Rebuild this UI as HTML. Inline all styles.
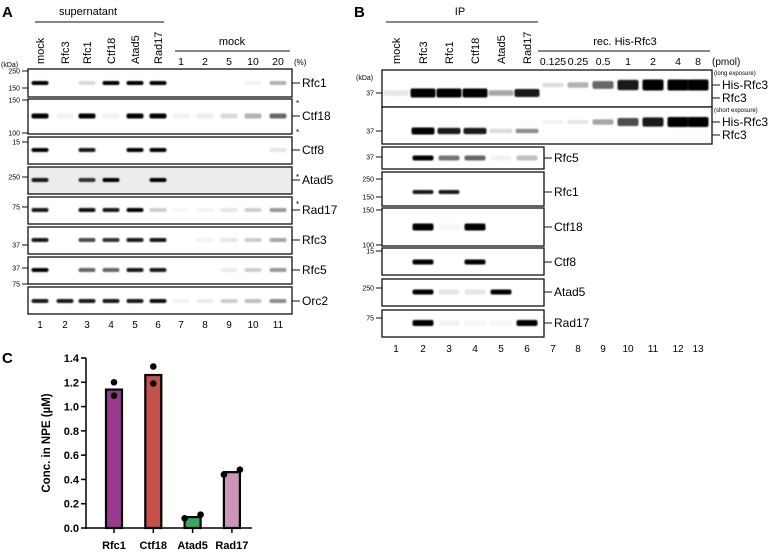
<!DOCTYPE html>
<html><head><meta charset="utf-8">
<style>
body{margin:0;background:#fff}
svg{display:block;font-family:"Liberation Sans",Arial,sans-serif}
</style></head>
<body>
<svg id="fig" width="777" height="555" viewBox="0 0 777 555" xmlns="http://www.w3.org/2000/svg">
<defs><filter id="bl" x="-20%" y="-100%" width="140%" height="300%"><feGaussianBlur stdDeviation="0.9"/></filter></defs>
<g id="gA"></g>
<g id="gB"></g>
<g id="gC"></g>
</svg>
<script>
// ---------- Panel C data ----------
const cCategories=["Rfc1","Ctf18","Atad5","Rad17"];
const cMeans=[1.14,1.26,0.09,0.46];
const cRep1=[1.20,1.33,0.08,0.44];
const cRep2=[1.09,1.19,0.11,0.48];
const cColors=["#993a8e","#c4524a","#3ba65d","#cc95bb"];
const cTicks=[0,0.2,0.4,0.6,0.8,1.0,1.2,1.4];
// ---------- Panel A data ----------
const aLanes=["mock","Rfc3","Rfc1","Ctf18","Atad5","Rad17"];
const aPercents=["1","2","5","10","20"];
const aRfc1=[1,0,0.15,1,1,1,0,0,0,0.05,0.3];
const aCtf18=[1,0.05,1,0.05,1,1,0.05,0.07,0.15,0.3,0.6];
const aCtf8=[1,0,0.9,0,1,1,0,0,0,0,0.1];
const aAtad5=[0.9,0,0.8,1,0,1,0,0,0,0,0];
const aRad17=[0.9,0,0.95,0.9,1,0.2,0.03,0.05,0.1,0.2,0.4];
const aRfc3=[0.9,0,0.7,0.8,0.9,0.9,0,0.05,0.1,0.2,0.35];
const aRfc5=[1,0,0.6,0.6,0.9,0.9,0,0,0.08,0.2,0.4];
const aOrc2=[0.9,0.9,0.9,0.9,0.9,0.95,0.05,0.08,0.2,0.25,0.45];
// ---------- Panel B data ----------
const bLanes=["mock","Rfc3","Rfc1","Ctf18","Atad5","Rad17"];
const bPmol=["0.125","0.25","0.5","1","2","4","8"];
const bLongRfc3=[0.1,1,1,1,0.35,0.9];
const bLongHis=[0.15,0.3,0.6,0.9,1,1,1];
const bShortRfc3=[0,1,0.9,0.9,0.15,0.45];
const bShortHis=[0.05,0.1,0.35,0.7,0.9,1,1];
const bRfc5=[0,1,0.55,0.6,0.05,0.25];
const bRfc1=[0,0.9,0.9,0,0,0];
const bCtf18=[0,1,0.03,1,0,0];
const bCtf8=[0,1,0,1,0,0];
const bAtad5=[0,1,0.1,0.1,1,0];
const bRad17=[0,1,0.05,0.03,0.03,1];

const NS="http://www.w3.org/2000/svg";
function mk(parent,tag,attrs,txt){const e=document.createElementNS(NS,tag);for(const k in attrs)e.setAttribute(k,attrs[k]);if(txt!==undefined)e.textContent=txt;parent.appendChild(e);return e;}

const gA=document.getElementById('gA'),gB=document.getElementById('gB'),gC=document.getElementById('gC');

function band(g,x,y,v,w,h){
  if(v<=0)return;
  const r=mk(g,'rect',{x:x-w/2,y:y-h/2,width:w,height:h,rx:2,fill:'#000','fill-opacity':Math.min(1,v),filter:'url(#bl)'});
  
  
}
function box(g,x1,y1,x2,y2,name,bg){
  const r=mk(g,'rect',{x:x1,y:y1,width:x2-x1,height:y2-y1,fill:bg||'#fff',stroke:'#111','stroke-width':1.3});
  
  
}
function mw(g,xr,y,t){mk(g,'line',{x1:xr-6,y1:y,x2:xr,y2:y,stroke:'#111'});const e=mk(g,'text',{x:xr-8,y:y+2.5,'font-size':7,'text-anchor':'end'},t);}
function lbl(g,xl,y,t,fs){mk(g,'line',{x1:xl,y1:y,x2:xl+8,y2:y,stroke:'#111'});const e=mk(g,'text',{x:xl+10,y:y+4,'font-size':fs||12},t);}

// ================= Panel A =================
const aX=[40,65,87,111,135,158,181,205,229,253,278];
mk(gA,'text',{x:2,y:17,'font-size':15,'font-weight':'bold'},'A');
mk(gA,'text',{x:88,y:15,'font-size':11,'text-anchor':'middle'},'supernatant');
mk(gA,'line',{x1:35,y1:22,x2:164,y2:22,stroke:'#111'});
aLanes.forEach((t,i)=>{const e=mk(gA,'text',{transform:`translate(${aX[i]+4},64) rotate(-90)`,'font-size':11},t);});
mk(gA,'text',{x:232,y:45,'font-size':11,'text-anchor':'middle'},'mock');
mk(gA,'line',{x1:175,y1:51,x2:290,y2:51,stroke:'#111'});
aPercents.forEach((t,i)=>mk(gA,'text',{x:aX[i+6],y:65,'font-size':10.5,'text-anchor':'middle'},t));
mk(gA,'text',{x:294,y:65,'font-size':8},'(%)');
mk(gA,'text',{x:1,y:67,'font-size':7},'(kDa)');
const aRows=[
 {d:aRfc1,y1:69,y2:97,by:83,name:'Rfc1',mws:[[250,71],[150,88]],h:4},
 {d:aCtf18,y1:99,y2:134,by:116,name:'Ctf18',mws:[[150,100],[100,133]],h:5,star:[102,131]},
 {d:aCtf8,y1:137,y2:164,by:150,name:'Ctf8',mws:[[15,142]],h:4},
 {d:aAtad5,y1:167,y2:194,by:180,name:'Atad5',mws:[[250,177]],h:4,bg:'#ececec',star:[176]},
 {d:aRad17,y1:197,y2:224,by:210,name:'Rad17',mws:[[75,207]],h:4,star:[203]},
 {d:aRfc3,y1:227,y2:254,by:240,name:'Rfc3',mws:[[37,245]],h:4},
 {d:aRfc5,y1:257,y2:284,by:270,name:'Rfc5',mws:[[37,268]],h:4},
 {d:aOrc2,y1:287,y2:314,by:301,name:'Orc2',mws:[[75,284]],h:4},
];
aRows.forEach(r=>{
  box(gA,28,r.y1,292,r.y2,'blot-'+r.name.toLowerCase(),r.bg);
  r.d.forEach((v,i)=>band(gA,aX[i],r.by,v,17,r.h));
  r.mws.forEach(m=>mw(gA,28,m[1],String(m[0])));
  lbl(gA,292,r.by,r.name);
  (r.star||[]).forEach(s=>mk(gA,'text',{x:296,y:s+4,'font-size':8},'*'));
});
aX.forEach((x,i)=>mk(gA,'text',{x:x,y:328,'font-size':10,'text-anchor':'middle'},String(i+1)));

// ================= Panel B =================
const bX=[396,423,449,475,501,527,553,578,603,628,653,678,698];
mk(gB,'text',{x:354,y:17,'font-size':15,'font-weight':'bold'},'B');
mk(gB,'text',{x:460,y:15,'font-size':11,'text-anchor':'middle'},'IP');
mk(gB,'line',{x1:386,y1:22,x2:538,y2:22,stroke:'#111'});
bLanes.forEach((t,i)=>{const e=mk(gB,'text',{transform:`translate(${bX[i]+4},64) rotate(-90)`,'font-size':11},t);});
mk(gB,'text',{x:625,y:45,'font-size':11,'text-anchor':'middle'},'rec. His-Rfc3');
mk(gB,'line',{x1:538,y1:51,x2:710,y2:51,stroke:'#111'});
bPmol.forEach((t,i)=>mk(gB,'text',{x:bX[i+6],y:65,'font-size':10.5,'text-anchor':'middle'},t));
mk(gB,'text',{x:712,y:65,'font-size':10},'(pmol)');
mk(gB,'text',{x:356,y:80,'font-size':7},'(kDa)');
box(gB,382,70,712,107,'blot-long-exposure');
box(gB,382,107,712,144,'blot-short-exposure');
bLongRfc3.forEach((v,i)=>band(gB,bX[i],93,v,25,9*Math.max(0.6,v)));
bLongHis.forEach((v,i)=>band(gB,bX[i+6],85,v,21,3+8*v));
bShortRfc3.forEach((v,i)=>band(gB,bX[i],131,v,23,7*Math.max(0.6,v)));
bShortHis.forEach((v,i)=>band(gB,bX[i+6],122,v,21,3+7*v));
mw(gB,382,93,'37');mw(gB,382,131,'37');
mk(gB,'text',{x:714,y:75,'font-size':6},'(long exposure)');
mk(gB,'text',{x:714,y:112,'font-size':6},'(short exposure)');
lbl(gB,712,85,'His-Rfc3');lbl(gB,712,98,'Rfc3');
lbl(gB,712,122,'His-Rfc3');lbl(gB,712,135,'Rfc3');
const bRows=[
 {d:bRfc5,y1:147,y2:169,by:158,name:'Rfc5',mws:[[37,157]],h:5},
 {d:bRfc1,y1:172,y2:206,by:192,name:'Rfc1',mws:[[250,179],[150,197]]},
 {d:bCtf18,y1:208,y2:246,by:227,name:'Ctf18',mws:[[150,210],[100,245]],h:7},
 {d:bCtf8,y1:248,y2:275,by:262,name:'Ctf8',mws:[[15,251]],h:5},
 {d:bAtad5,y1:279,y2:306,by:292,name:'Atad5',mws:[[250,288]],h:5},
 {d:bRad17,y1:310,y2:337,by:323,name:'Rad17',mws:[[75,318]],h:6},
];
bRows.forEach(r=>{
  box(gB,382,r.y1,544,r.y2,'blot-ip-'+r.name.toLowerCase());
  r.d.forEach((v,i)=>band(gB,bX[i],r.by,v,21,r.h||4));
  r.mws.forEach(m=>mw(gB,382,m[1],String(m[0])));
  lbl(gB,544,r.by,r.name);
});
bX.forEach((x,i)=>mk(gB,'text',{x:x,y:352,'font-size':10,'text-anchor':'middle'},String(i+1)));

// ================= Panel C =================
mk(gC,'text',{x:2,y:363,'font-size':15,'font-weight':'bold'},'C');
const y0=528,yTop=358,vMax=1.4;
const ys=v=>y0-(v/vMax)*(y0-yTop);
const xc=i=>114+i*39.3;
const axX=86;
mk(gC,'line',{x1:axX,y1:yTop,x2:axX,y2:y0+1,stroke:'#000','stroke-width':1.5});
mk(gC,'line',{x1:axX,y1:y0,x2:252,y2:y0,stroke:'#000','stroke-width':1.5});
cTicks.forEach(t=>{
  mk(gC,'line',{x1:axX-5,y1:ys(t),x2:axX,y2:ys(t),stroke:'#000','stroke-width':1.5});
  const e=mk(gC,'text',{x:axX-7,y:ys(t)+4,'font-size':11,'font-weight':'bold','text-anchor':'end'},t.toFixed(1));
  
});
const yt=mk(gC,'text',{transform:'translate(50,443) rotate(-90)','font-size':11.5,'font-weight':'bold','text-anchor':'middle'},'Conc. in NPE (µM)');

cCategories.forEach((c,i)=>{
  const x=xc(i),w=16;
  const b=mk(gC,'rect',{x:x-w/2,y:ys(cMeans[i]),width:w,height:y0-ys(cMeans[i]),fill:cColors[i],stroke:'#000','stroke-width':2.2});
  
  mk(gC,'line',{x1:x,y1:y0,x2:x,y2:y0+5,stroke:'#000','stroke-width':1.5});
  const small=cMeans[i]<0.6;
  const d1=mk(gC,'circle',{cx:small?x-w/2:x,cy:ys(cRep1[i]),r:3.3,fill:'#000'});
  
  const d2=mk(gC,'circle',{cx:small?x+w/2:x,cy:ys(cRep2[i]),r:3.3,fill:'#000'});
  
  const t=mk(gC,'text',{x:x,y:549,'font-size':11,'font-weight':'bold','text-anchor':'middle'},c);
  
});
</script>
</body></html>
